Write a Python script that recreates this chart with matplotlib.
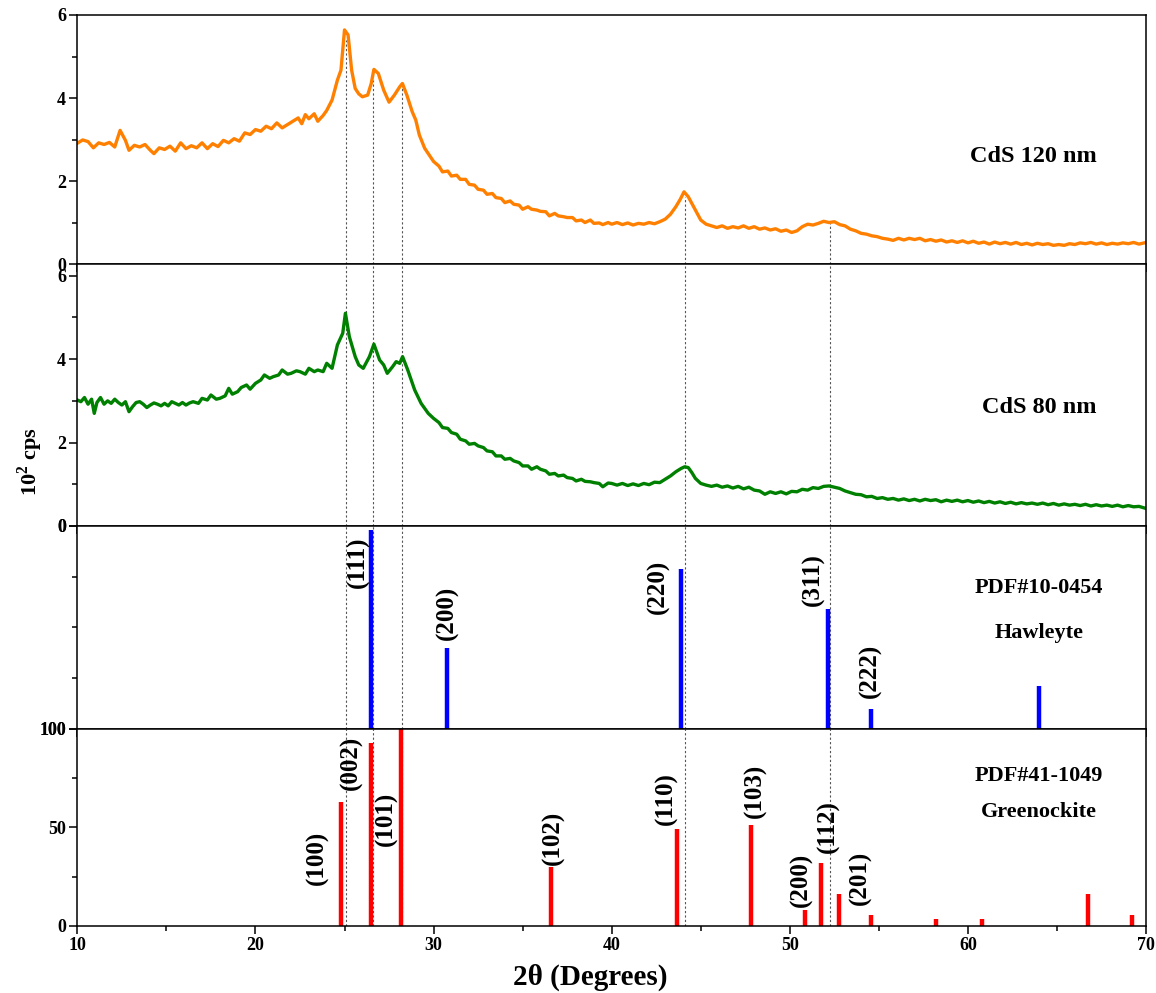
import numpy as np
import matplotlib.pyplot as plt
from matplotlib.ticker import MultipleLocator, FixedLocator

plt.rcParams['font.family'] = ['Liberation Serif', 'DejaVu Serif']
plt.rcParams['font.weight'] = 'bold'
plt.rcParams['mathtext.fontset'] = 'custom'
plt.rcParams['mathtext.rm'] = 'Liberation Serif:bold'
plt.rcParams['mathtext.bf'] = 'Liberation Serif:bold'

# === CdS 120 nm (orange) ===
x120_a = [10.0, 10.3, 10.6, 10.9, 11.2, 11.5, 11.8, 12.1, 12.4, 12.7, 12.9, 13.2, 13.5, 13.8, 14.1, 14.3,
          14.6, 14.9, 15.2, 15.5, 15.8, 16.1, 16.4, 16.7, 17.0, 17.3, 17.6, 17.9, 18.2, 18.5, 18.8, 19.1,
          19.4, 19.7, 20.0, 20.3, 20.6, 20.9, 21.2, 21.5, 21.8, 22.1, 22.4, 22.6, 22.8, 23.0, 23.3, 23.5,
          23.8, 24.0, 24.3, 24.6, 24.8, 25.0, 25.2, 25.4, 25.6, 25.8, 26.0, 26.3, 26.5, 26.65, 26.9, 27.2,
          27.5, 27.8, 28.1, 28.25, 28.5, 28.8, 29.0, 29.2, 29.5, 29.8, 30.0, 30.3, 30.5, 30.8, 31.0, 31.3,
          31.5, 31.8, 32.0, 32.3, 32.5, 32.8, 33.0, 33.3, 33.5, 33.8, 34.0, 34.3, 34.5, 34.8, 35.0, 35.3,
          35.5, 35.8, 36.0, 36.3, 36.5, 36.8, 37.0, 37.3, 37.5, 37.8, 38.0, 38.3, 38.5, 38.8, 39.0, 39.3,
          39.5, 39.8]
y120_a = [2.91, 2.99, 2.95, 2.80, 2.92, 2.88, 2.93, 2.82, 3.22, 2.98, 2.74, 2.86, 2.82, 2.88, 2.74, 2.66,
          2.80, 2.76, 2.84, 2.72, 2.92, 2.78, 2.85, 2.80, 2.92, 2.78, 2.90, 2.83, 2.98, 2.92, 3.02, 2.96,
          3.16, 3.12, 3.24, 3.20, 3.32, 3.26, 3.40, 3.28, 3.36, 3.44, 3.52, 3.38, 3.60, 3.50, 3.62, 3.44,
          3.58, 3.70, 3.95, 4.43, 4.67, 5.64, 5.52, 4.67, 4.23, 4.10, 4.03, 4.07, 4.35, 4.69, 4.59, 4.19,
          3.90, 4.07, 4.27, 4.35, 4.07, 3.67, 3.47, 3.11, 2.79, 2.60, 2.47, 2.36, 2.22, 2.24, 2.12, 2.14,
          2.04, 2.04, 1.92, 1.90, 1.80, 1.78, 1.68, 1.70, 1.60, 1.58, 1.48, 1.52, 1.44, 1.42, 1.32, 1.38,
          1.32, 1.30, 1.27, 1.26, 1.16, 1.22, 1.16, 1.14, 1.12, 1.12, 1.04, 1.06, 1.00, 1.06, 0.98, 0.99,
          0.95, 1.00]
x120_b = [40.0, 40.3, 40.6, 40.9, 41.2, 41.5, 41.8, 42.1, 42.4, 42.7, 43.0, 43.3, 43.6, 43.85, 44.06, 44.3,
          44.55, 44.8, 45.0, 45.3, 45.6, 45.9, 46.2, 46.5, 46.8, 47.1, 47.4, 47.7, 48.0, 48.3, 48.6, 48.9,
          49.2, 49.5, 49.8, 50.1, 50.4, 50.7, 51.0, 51.3, 51.6, 51.9, 52.2, 52.5, 52.8, 53.1, 53.4, 53.7,
          54.0, 54.3, 54.6, 54.9, 55.2, 55.5, 55.8, 56.1, 56.4, 56.7, 57.0, 57.3, 57.6, 57.9, 58.2, 58.5,
          58.8, 59.1, 59.4, 59.7, 60.0, 60.3, 60.6, 60.9, 61.2, 61.5, 61.8, 62.1, 62.4, 62.7, 63.0, 63.3,
          63.6, 63.9, 64.2, 64.5, 64.8, 65.1, 65.4, 65.7, 66.0, 66.3, 66.6, 66.9, 67.2, 67.5, 67.8, 68.1,
          68.4, 68.7, 69.0, 69.3, 69.6, 70.0]
y120_b = [0.96, 1.00, 0.95, 0.99, 0.94, 0.98, 0.96, 1.00, 0.97, 1.02, 1.08, 1.20, 1.38, 1.56, 1.74, 1.62,
          1.42, 1.22, 1.06, 0.96, 0.92, 0.88, 0.92, 0.86, 0.90, 0.87, 0.92, 0.86, 0.90, 0.84, 0.87, 0.82,
          0.85, 0.79, 0.82, 0.76, 0.80, 0.90, 0.96, 0.94, 0.98, 1.03, 1.00, 1.02, 0.95, 0.92, 0.84, 0.80,
          0.74, 0.72, 0.68, 0.66, 0.62, 0.60, 0.57, 0.62, 0.58, 0.62, 0.59, 0.62, 0.56, 0.59, 0.55, 0.58,
          0.53, 0.56, 0.52, 0.56, 0.51, 0.55, 0.50, 0.53, 0.48, 0.53, 0.49, 0.52, 0.48, 0.52, 0.47, 0.50,
          0.46, 0.50, 0.47, 0.49, 0.45, 0.47, 0.45, 0.49, 0.47, 0.51, 0.49, 0.52, 0.48, 0.51, 0.47, 0.50,
          0.48, 0.51, 0.49, 0.52, 0.48, 0.52]

# === CdS 80 nm (green) ===
x80_a = [10.0, 10.2, 10.4, 10.6, 10.8, 10.95, 11.1, 11.3, 11.5, 11.7, 11.9, 12.1, 12.3, 12.5, 12.7, 12.9,
         13.1, 13.3, 13.5, 13.7, 13.9, 14.1, 14.3, 14.5, 14.7, 14.9, 15.1, 15.3, 15.5, 15.7, 15.9, 16.1,
         16.3, 16.5, 16.8, 17.0, 17.3, 17.5, 17.8, 18.0, 18.3, 18.5, 18.7, 19.0, 19.2, 19.5, 19.7, 20.0,
         20.3, 20.5, 20.8, 21.0, 21.3, 21.5, 21.8, 22.0, 22.3, 22.5, 22.8, 23.0, 23.3, 23.5, 23.8, 24.0,
         24.3, 24.6, 24.9, 25.05, 25.27, 25.6, 25.8, 26.05, 26.4, 26.65, 26.97, 27.2, 27.4, 27.7, 27.9, 28.1,
         28.26, 28.55, 28.94, 29.3, 29.7, 30.0, 30.3, 30.5, 30.8, 31.0, 31.3, 31.5, 31.8, 32.0, 32.3, 32.5,
         32.8, 33.0, 33.3, 33.5, 33.8, 34.0, 34.3, 34.5, 34.8, 35.0, 35.3, 35.5, 35.8, 36.0, 36.3, 36.5,
         36.8, 37.0, 37.3, 37.5, 37.8, 38.0, 38.3, 38.5, 38.8, 39.0, 39.3, 39.5, 39.8]
y80_a = [3.02, 2.98, 3.08, 2.92, 3.04, 2.70, 2.96, 3.08, 2.92, 3.00, 2.94, 3.04, 2.96, 2.90, 2.98, 2.74,
         2.86, 2.96, 2.98, 2.92, 2.84, 2.90, 2.95, 2.92, 2.88, 2.94, 2.88, 2.98, 2.94, 2.90, 2.96, 2.90,
         2.95, 2.98, 2.94, 3.06, 3.02, 3.14, 3.04, 3.06, 3.12, 3.30, 3.16, 3.22, 3.32, 3.38, 3.28, 3.42,
         3.50, 3.62, 3.54, 3.58, 3.62, 3.74, 3.64, 3.66, 3.72, 3.70, 3.64, 3.78, 3.70, 3.74, 3.70, 3.90,
         3.78, 4.34, 4.62, 5.10, 4.54, 4.06, 3.86, 3.78, 4.06, 4.36, 3.98, 3.86, 3.66, 3.82, 3.94, 3.90,
         4.06, 3.74, 3.26, 2.94, 2.70, 2.58, 2.48, 2.36, 2.34, 2.24, 2.20, 2.08, 2.04, 1.96, 1.98, 1.92,
         1.88, 1.80, 1.78, 1.68, 1.68, 1.60, 1.62, 1.56, 1.52, 1.44, 1.44, 1.36, 1.42, 1.36, 1.32, 1.24,
         1.26, 1.20, 1.22, 1.16, 1.14, 1.08, 1.12, 1.07, 1.06, 1.04, 1.02, 0.94, 1.03]
x80_b = [40.0, 40.3, 40.6, 40.9, 41.2, 41.5, 41.8, 42.1, 42.4, 42.7, 43.0, 43.3, 43.6, 43.9, 44.1, 44.3,
         44.5, 44.7, 45.0, 45.3, 45.6, 45.9, 46.2, 46.5, 46.8, 47.1, 47.4, 47.7, 48.0, 48.3, 48.6, 48.9,
         49.2, 49.5, 49.8, 50.1, 50.4, 50.7, 51.0, 51.3, 51.6, 51.9, 52.2, 52.5, 52.8, 53.1, 53.4, 53.7,
         54.0, 54.3, 54.6, 54.9, 55.2, 55.5, 55.8, 56.1, 56.4, 56.7, 57.0, 57.3, 57.6, 57.9, 58.2, 58.5,
         58.8, 59.1, 59.4, 59.7, 60.0, 60.3, 60.6, 60.9, 61.2, 61.5, 61.8, 62.1, 62.4, 62.7, 63.0, 63.3,
         63.6, 63.9, 64.2, 64.5, 64.8, 65.1, 65.4, 65.7, 66.0, 66.3, 66.6, 66.9, 67.2, 67.5, 67.8, 68.1,
         68.4, 68.7, 69.0, 69.3, 69.6, 70.0]
y80_b = [1.02, 0.98, 1.02, 0.97, 1.01, 0.97, 1.02, 0.99, 1.05, 1.04, 1.12, 1.20, 1.30, 1.38, 1.42, 1.40,
         1.28, 1.14, 1.02, 0.98, 0.95, 0.98, 0.93, 0.96, 0.91, 0.95, 0.89, 0.93, 0.86, 0.84, 0.76, 0.82,
         0.78, 0.82, 0.77, 0.83, 0.82, 0.88, 0.86, 0.92, 0.90, 0.95, 0.96, 0.93, 0.90, 0.84, 0.80, 0.76,
         0.75, 0.70, 0.71, 0.66, 0.68, 0.64, 0.66, 0.62, 0.65, 0.61, 0.64, 0.60, 0.64, 0.61, 0.63, 0.58,
         0.62, 0.59, 0.62, 0.58, 0.61, 0.57, 0.60, 0.56, 0.59, 0.55, 0.58, 0.54, 0.57, 0.53, 0.56, 0.53,
         0.55, 0.52, 0.55, 0.51, 0.54, 0.50, 0.53, 0.50, 0.52, 0.49, 0.52, 0.48, 0.51, 0.48, 0.50, 0.47,
         0.50, 0.46, 0.49, 0.46, 0.47, 0.42]

x120 = x120_a + x120_b
y120 = y120_a + y120_b
x80 = x80_a + x80_b
y80 = y80_a + y80_b

# === PDF#10-0454 Hawleyte (blue) ===
hx = [26.47, 30.76, 43.9, 52.13, 54.54, 63.97]
hi = [98, 40, 79, 59, 10, 21]
h_lab = ['(111)', '(200)', '(220)', '(311)', '(222)']
h_lab_x = [25.8, 30.75, 42.6, 51.3, 54.5]
h_lab_y = [17.7, 43, 30, 26.6, 71.4]

# === PDF#41-1049 Greenockite (red) ===
gx = [24.8, 26.47, 28.19, 36.6, 43.65, 47.8, 50.85, 51.77, 52.74, 54.53, 58.23, 60.77, 66.73, 69.2]
gi = [63, 93, 100, 30, 49, 51, 8, 32, 16, 5.6, 3.5, 3.5, 16, 5.6]
g_lab = ['(100)', '(002)', '(101)', '(102)', '(110)', '(103)', '(200)', '(112)', '(201)']
g_lab_x = [23.5, 25.4, 27.37, 36.72, 43.05, 48.05, 50.63, 52.19, 53.96]
g_lab_y = [34.5, 83, 54.3, 44.7, 64.9, 68.5, 23.4, 50.3, 24.4]

# dotted guide lines (x, top in upper panel)
guide_x = [25.08, 26.61, 28.2, 44.1, 52.26]
guide_top = [5.4, 4.43, 4.23, 1.62, 0.98]

fig = plt.figure(figsize=(11.56, 9.93), dpi=100)
L, W = 0.0669, 0.9245
ax1 = fig.add_axes([L, 0.7341, W, 0.2508])
ax2 = fig.add_axes([L, 0.4703, W, 0.2638], sharex=ax1)
ax3 = fig.add_axes([L, 0.2659, W, 0.2044], sharex=ax1)
ax4 = fig.add_axes([L, 0.0675, W, 0.1984], sharex=ax1)

ax1.plot(x120, y120, color='#ff8000', lw=2.4)
ax2.plot(x80, y80, color='#008000', lw=2.4)
ax3.vlines(hx, 100, [100 - v for v in hi], color='#0000ff', lw=3.2)
ax4.vlines(gx, 0, gi, color='#ff0000', lw=3.2)

dot = dict(color='#555555', lw=0.8, linestyle=(0, (2, 2)), zorder=0)
ax1.vlines(guide_x, 0, guide_top, **dot)
for ax in (ax2, ax3, ax4):
    for gxv in guide_x:
        ax.axvline(gxv, **dot)

for t, xx, yy in zip(h_lab, h_lab_x, h_lab_y):
    ax3.text(xx, yy, t, rotation=90, ha='center', va='center', fontsize=18, fontweight='bold')
for t, xx, yy in zip(g_lab, g_lab_x, g_lab_y):
    ax4.text(xx, yy, t, rotation=90, ha='center', va='center', fontsize=18, fontweight='bold')

ax1.text(63.7, 2.58, 'CdS 120 nm', ha='center', va='center', fontsize=17.5, fontweight='bold')
ax2.text(64.0, 2.85, 'CdS 80 nm', ha='center', va='center', fontsize=17.5, fontweight='bold')
ax3.text(64.0, 30.5, 'PDF#10-0454', ha='center', va='center', fontsize=16, fontweight='bold')
ax3.text(64.0, 52.7, 'Hawleyte', ha='center', va='center', fontsize=16, fontweight='bold')
ax4.text(64.0, 76, 'PDF#41-1049', ha='center', va='center', fontsize=16, fontweight='bold')
ax4.text(64.0, 58, 'Greenockite', ha='center', va='center', fontsize=16, fontweight='bold')

ax1.set_xlim(10, 70)
ax1.set_ylim(0, 6)
ax2.set_ylim(0, 6.28)
ax3.set_ylim(100, 0)
ax4.set_ylim(0, 100)

for ax in (ax1, ax2):
    ax.yaxis.set_major_locator(FixedLocator([0, 2, 4, 6]))
    ax.yaxis.set_minor_locator(FixedLocator([1, 3, 5]))
ax3.yaxis.set_major_locator(FixedLocator([0, 100]))
ax3.yaxis.set_minor_locator(FixedLocator([25, 50, 75]))
ax4.yaxis.set_major_locator(FixedLocator([0, 50, 100]))
ax4.yaxis.set_minor_locator(FixedLocator([25, 75]))

for ax in (ax1, ax2, ax3, ax4):
    ax.xaxis.set_major_locator(MultipleLocator(10))
    ax.xaxis.set_minor_locator(MultipleLocator(5))
    ax.tick_params(which='both', direction='out', top=False, right=False, width=1.1)
    ax.tick_params(which='major', length=6, labelsize=13, pad=2)
    ax.tick_params(which='minor', length=3.5)
    for s in ax.spines.values():
        s.set_linewidth(1.1)
    for lab in ax.get_yticklabels():
        lab.set_fontweight('bold')
for ax in (ax1, ax2, ax3):
    ax.tick_params(labelbottom=False)
for lab in ax4.get_xticklabels():
    lab.set_fontweight('bold')

fig.text(0.511, 0.016, '2θ (Degrees)', ha='center', va='center', fontsize=21, fontweight='bold')
fig.text(0.026, 0.535, r'$10^{2}$ cps', ha='center', va='center', rotation=90, fontsize=16, fontweight='bold')

fig.savefig('out.png', dpi=100)
